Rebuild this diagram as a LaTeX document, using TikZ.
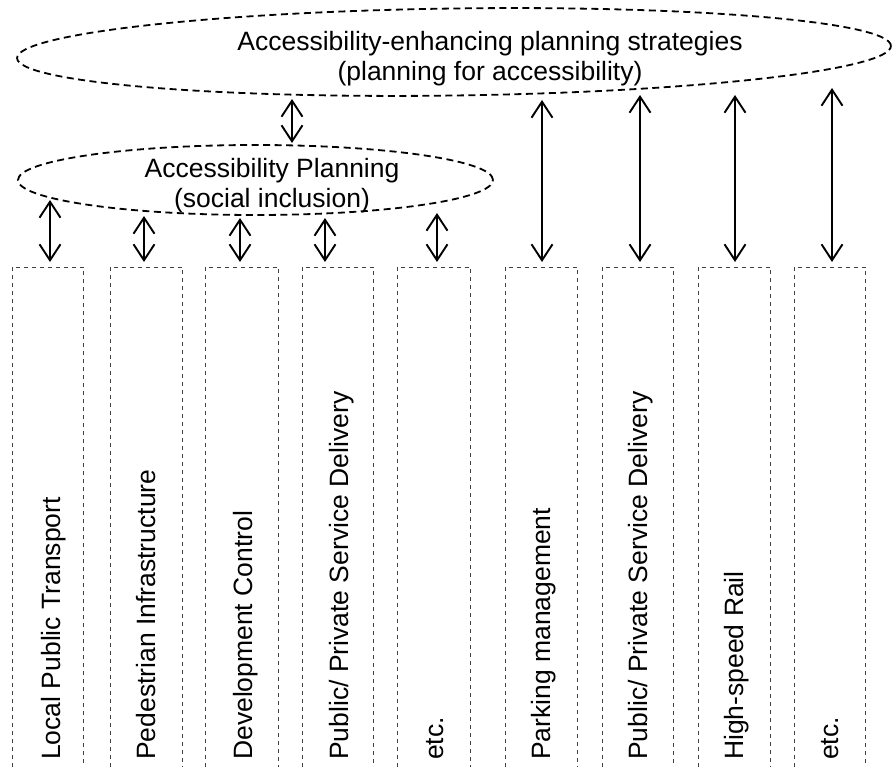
\documentclass[tikz,border=0pt]{standalone}
\usepackage{fontspec}
\setmainfont{Liberation Sans}
\usetikzlibrary{shapes.geometric,arrows.meta}
\begin{document}
\begin{tikzpicture}[x=1pt,y=-1pt,
  ell/.style={draw, ellipse, line width=1.8pt, dash pattern=on 7pt off 4.5pt, inner sep=0pt},
  lbl/.style={font=\fontsize{26.5}{29.5}\selectfont, align=center, inner sep=0pt},
  colbox/.style={inner sep=0pt, minimum width=72pt, minimum height=500pt, anchor=north west},
  colline/.style={line width=0.8pt, black!75, dash pattern=on 4pt off 4pt},
  coltext/.style={font=\fontsize{26.5}{29.5}\selectfont, inner sep=0pt, rotate=90, anchor=base west},
  dbl/.style={line width=1.9pt, {Straight Barb[length=16pt,width=21pt]}-{Straight Barb[length=16pt,width=21pt]}}
]
\useasboundingbox (0,0) rectangle (893,767);

% ellipses
\node[ell, minimum width=874pt, minimum height=87pt, rotate=0.8] (E1) at (454,52) {};
\node[lbl] (L1) at (490,58.5) {Accessibility-enhancing planning strategies\\(planning for accessibility)};
\node[ell, minimum width=475pt, minimum height=70pt] (E2) at (255.5,180) {};
\node[lbl] (L2) at (272,185.5) {Accessibility Planning\\(social inclusion)};

% columns
\foreach \n/\l/\w in {1/12/71,2/110/72,3/205/73,4/302/71,5/397/73,6/505/72,7/602/71,8/698/72,9/794/71}{
  \node[colbox, minimum width=\w pt] (c\n) at (\l,267) {};
  \draw[colline] (c\n.south west) |- (c\n.north east) -- (c\n.south east);
}

\node[coltext] (t1) at (60,760) {Local Public Transport};
\node[coltext] (t2) at (155,760) {Pedestrian Infrastructure};
\node[coltext] (t3) at (252,760) {Development Control};
\node[coltext] (t4) at (348,760) {Public/ Private Service Delivery};
\node[coltext] (t5) at (443,760) {etc.};
\node[coltext] (t6) at (550,760) {Parking management};
\node[coltext] (t7) at (647,760) {Public/ Private Service Delivery};
\node[coltext] (t8) at (743,760) {High-speed Rail};
\node[coltext] (t9) at (838,760) {etc.};

% arrow ends
\coordinate (m0) at (292,99);
\coordinate (m1) at (292,143);
\coordinate (p1) at (50,200);
\coordinate (p2) at (144,216);
\coordinate (p3) at (240,218);
\coordinate (p4) at (325,218);
\coordinate (p5) at (437,213);
\coordinate (p6) at (542,100);
\coordinate (p7) at (640,95);
\coordinate (p8) at (735,95);
\coordinate (p9) at (832,88);

\draw[dbl] (m0) -- (m1);
\foreach \n in {1,...,9}{
  \draw[dbl] (p\n) -- ([yshift=5pt]p\n |- c\n.north);
}
\end{tikzpicture}
\end{document}
